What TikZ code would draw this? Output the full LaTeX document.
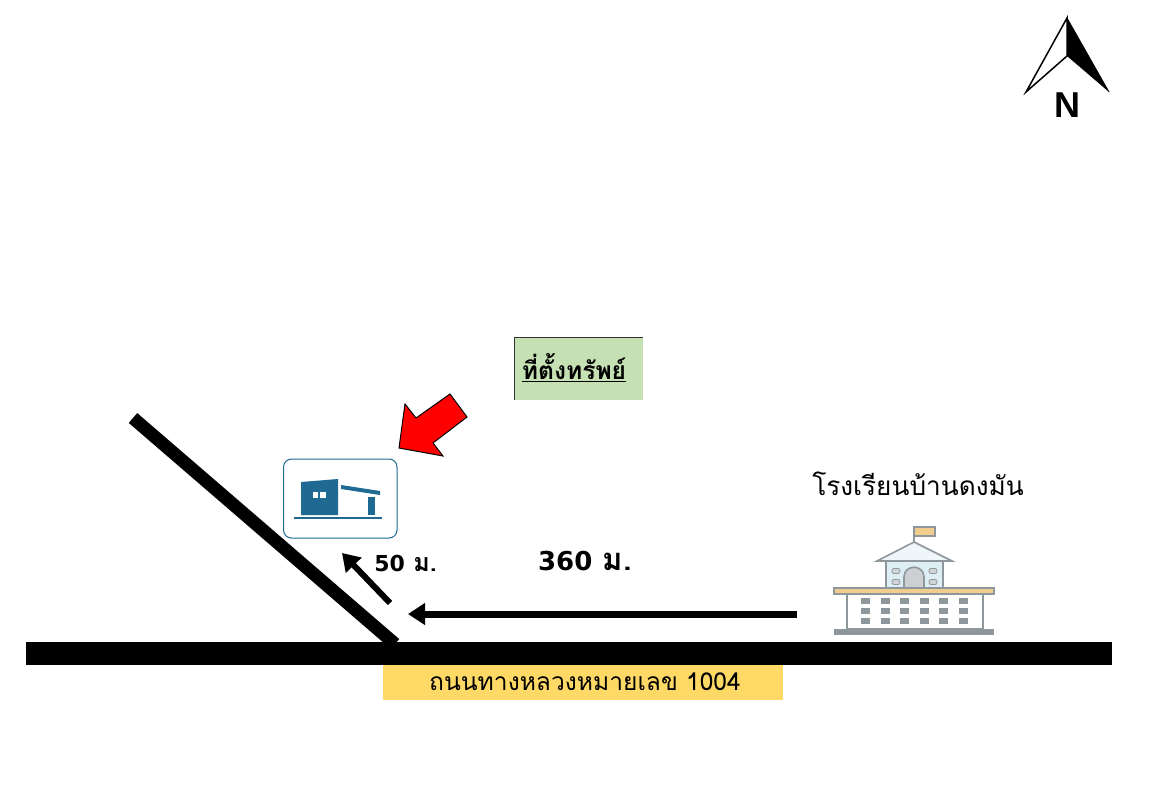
\documentclass[tikz,border=0pt]{standalone}
\usepackage{fontspec}
\usepackage{xcolor}
\usepackage{tikz}
\usetikzlibrary{arrows.meta}
\newfontfamily\thaifont[Script=Thai]{Loma}
\newfontfamily\numfont{DejaVu Sans}
\setsansfont{Liberation Sans}
\definecolor{housecol}{HTML}{1F6A93}
\definecolor{schoolline}{HTML}{8E979C}
\definecolor{schoolroof}{HTML}{F2CE8E}
\definecolor{schoolglass}{HTML}{DDEEF5}
\definecolor{roadyellow}{HTML}{FFD966}
\definecolor{propgreen}{HTML}{C5E0B3}
\tikzset{
  road/.style={line width=#1,black},
  distarrow/.style={line width=#1,-{Triangle[length=17pt,width=21pt]}},
  thaitext/.style={inner sep=0pt,font=\thaifont},
  schoolpart/.style={draw=schoolline,line width=1.6pt},
  winbox/.style={fill=schoolline,minimum width=9pt,minimum height=6pt,inner sep=0pt},
  smallwin/.style={draw=schoolline,fill=schoolline!40,minimum width=8pt,minimum height=5pt,inner sep=0pt,line width=.8pt,rounded corners=2pt}
}
\begin{document}
\begin{tikzpicture}[x=1pt,y=-1pt]
\useasboundingbox[fill=white] (0,0) rectangle (1156,800);
% north arrow
\coordinate (napex) at (1067,18);
\coordinate (ncentre) at (1067,56);
\coordinate (nleft) at (1026,92);
\coordinate (nright) at (1109,92);
\draw[line width=1.5pt,line join=miter] (napex)--(nleft)--(ncentre)--cycle;
\fill (napex)--(ncentre)--(nright)--cycle;
\draw[line width=.8pt] (napex)--(nright);
\node[inner sep=0pt,font=\sffamily\bfseries\fontsize{36}{36}\selectfont] (nletter) at (1067,105) {N};
% roads
\coordinate (mainw) at (26,653);
\coordinate (maine) at (1112,653);
\coordinate (sidetop) at (133,418);
\coordinate (sideend) at (395,644);
\draw[road=13pt] (sidetop)--(sideend);
\draw[road=23pt] (mainw)--(maine);
\node[fill=roadyellow,minimum width=400pt,minimum height=35pt,inner sep=0pt] (roadbox) at (583,682.5) {};
\node[thaitext,font=\thaifont\fontsize{24.6}{24.6}\selectfont] (roadlabel) at (585,682) {ถนนทางหลวงหมายเลข 1004};
% property label
\node[fill=propgreen,minimum width=128pt,minimum height=62pt,inner sep=0pt] (proplabel) at (579,369) {};
\draw[line width=1pt,black!80] (proplabel.south west)--(proplabel.north west)--(proplabel.north east);
\node[thaitext,font=\thaifont\bfseries\fontsize{24.6}{24.6}\selectfont] (proptext) at (574,368) {\underline{ที่ตั้งทรัพย์}};
% red arrow
\draw[fill=red,line width=1pt,line join=miter] (399,448)--(405,404)--(416,418)--(450,394)--(467,417)--(433,443)--(443,456)--cycle;
% house icon
\draw[housecol,line width=1pt,rounded corners=8pt,fill=white] (283.5,459) rectangle (397,538);
\fill[housecol] (301,482)--(338,479)--(338,515)--(301,515)--cycle;
\fill[white] (313,492) rectangle (318,498);
\fill[white] (320,492) rectangle (326,498);
\fill[housecol] (341,485)--(380,491)--(380,495)--(341,489)--cycle;
\fill[housecol] (368,497) rectangle (375,515);
\draw[housecol,line width=2pt] (294,518)--(382,518);
% distance arrows
\coordinate (turnstart) at (390,603);
\coordinate (turnend) at (342,553);
\coordinate (schoolstart) at (797,614);
\coordinate (schoolend) at (408,614);
\draw[distarrow=6pt] (turnstart)--(turnend);
\draw[distarrow=7pt] (schoolstart)--(schoolend);
\node[thaitext,font=\thaifont\bfseries\fontsize{25}{25}\selectfont] (turnlabel) at (405.5,563) {{\numfont\bfseries\fontsize{22}{22}\selectfont 50} ม.};
\node[thaitext,font=\thaifont\bfseries\fontsize{31}{31}\selectfont] (schoollabel) at (585,561) {{\numfont\bfseries\fontsize{26}{26}\selectfont 360} ม.};
% school
\node[thaitext,font=\thaifont\fontsize{26.2}{26.2}\selectfont] (schoolname) at (918,484) {โรงเรียนบ้านดงมัน};
\draw[schoolline,line width=1.6pt] (914,542)--(914,527);
\draw[schoolpart,fill=schoolroof] (914,527) rectangle (935,536);
\draw[schoolpart,fill=schoolglass] (886,560) rectangle (943,588);
\draw[schoolpart,fill=schoolglass!50] (877,561)--(914,542)--(952,561)--cycle;
\draw[schoolpart,fill=schoolline!45] (904,588)--(904,577) .. controls (904,564) and (924,564) .. (924,577)--(924,588)--cycle;
\foreach \wx in {896,933}
  \foreach \wy in {571,582}
    \node[smallwin] (upwin\wx\wy) at (\wx,\wy) {};
\draw[schoolpart,fill=white] (847,593) rectangle (983,629);
\foreach \wx in {865,885,904,924,943,963}
  \foreach \wy in {601,611,621}
    \node[winbox] (win\wx\wy) at (\wx,\wy) {};
\draw[schoolpart,fill=schoolroof] (834,588) rectangle (994,594);
\fill[schoolline] (834,629) rectangle (994,635);
\end{tikzpicture}
\end{document}
